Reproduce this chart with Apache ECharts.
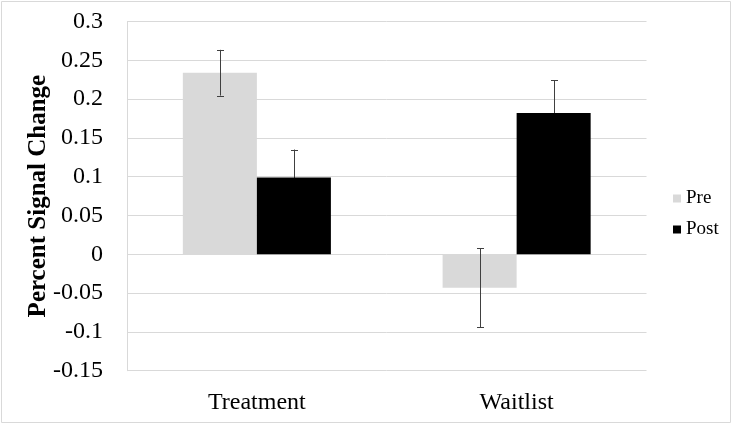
<!DOCTYPE html>
<html><head><meta charset="utf-8">
<script src="https://cdn.jsdelivr.net/npm/echarts@6/dist/echarts.min.js"></script>
<style>html,body{margin:0;padding:0;background:#fff}#c{width:733px;height:425px}</style>
</head><body><div id="c"></div>
<script>
var categories = ['Treatment', 'Waitlist'];
var seriesNames = ['Pre', 'Post'];
var preValues = [0.234, -0.043];
var postValues = [0.099, 0.182];
var preErrors = [0.0295, 0.051];
var postErrors = [0.036, 0.042];
var yTicks = { min: -0.15, max: 0.3, interval: 0.05 };

var font = '"Liberation Serif", "Times New Roman", serif';
var BW = 0.285;

function errSeries(vals, errs, sign, z) {
  return {
    type: 'custom',
    silent: true,
    z: z,
    data: vals.map(function (v, i) { return [i, v - errs[i], v + errs[i]]; }),
    renderItem: function (params, api) {
      var band = api.size([1, 0])[0];
      var off = sign * band * BW / 2;
      var lo = api.coord([api.value(0), api.value(1)]);
      var hi = api.coord([api.value(0), api.value(2)]);
      var x = Math.round(lo[0] + off) + 0.5;
      var cap = 3.5;
      var st = { stroke: '#404040', lineWidth: 1 };
      return { type: 'group', children: [
        { type: 'line', shape: { x1: x, y1: lo[1], x2: x, y2: hi[1] }, style: st },
        { type: 'line', shape: { x1: x - cap, y1: Math.round(lo[1]) + 0.5, x2: x + cap, y2: Math.round(lo[1]) + 0.5 }, style: st },
        { type: 'line', shape: { x1: x - cap, y1: Math.round(hi[1]) + 0.5, x2: x + cap, y2: Math.round(hi[1]) + 0.5 }, style: st }
      ]};
    }
  };
}

var chart = echarts.init(document.getElementById('c'));
chart.setOption({
  animation: false,
  graphic: [{ type: 'rect', shape: { x: 1.5, y: 1.5, width: 729, height: 421 }, style: { fill: 'none', stroke: '#d9d9d9', lineWidth: 1 } }],
  grid: { left: 127, top: 21.5, width: 519.5, height: 349.2 },
  legend: {
    orient: 'vertical', left: 668, top: 184, icon: 'rect', itemWidth: 8, itemHeight: 8, itemGap: 12,
    textStyle: { fontFamily: font, fontSize: 19, color: '#000' },
    data: seriesNames
  },
  xAxis: {
    type: 'category', data: categories,
    axisLine: { show: false, onZero: false }, axisTick: { show: false },
    axisLabel: { fontFamily: font, fontSize: 24, color: '#000', margin: 20 }
  },
  yAxis: {
    type: 'value', min: yTicks.min, max: yTicks.max, interval: yTicks.interval,
    axisLine: { show: true, lineStyle: { color: '#d9d9d9' } }, axisTick: { show: false },
    splitLine: { lineStyle: { color: '#d9d9d9', width: 1 } },
    axisLabel: { fontFamily: font, fontSize: 24, color: '#000', margin: 24,
      formatter: function (v) { return String(parseFloat(v.toFixed(2))); } },
    name: 'Percent Signal Change', nameLocation: 'middle', nameGap: 76, nameMoveOverlap: false,
    nameTextStyle: { fontFamily: font, fontSize: 25, fontWeight: 'bold', color: '#000' }
  },
  series: [
    { name: 'Pre', type: 'bar', z: 2, data: preValues, barWidth: (BW * 100) + '%', barGap: '0%', itemStyle: { color: '#d9d9d9' } },
    { name: 'Post', type: 'bar', z: 2, data: postValues, barWidth: (BW * 100) + '%', barGap: '0%', itemStyle: { color: '#000000' } },
    errSeries(preValues, preErrors, -1, 5),
    errSeries(postValues, postErrors, 1, 1)
  ]
});
</script></body></html>
